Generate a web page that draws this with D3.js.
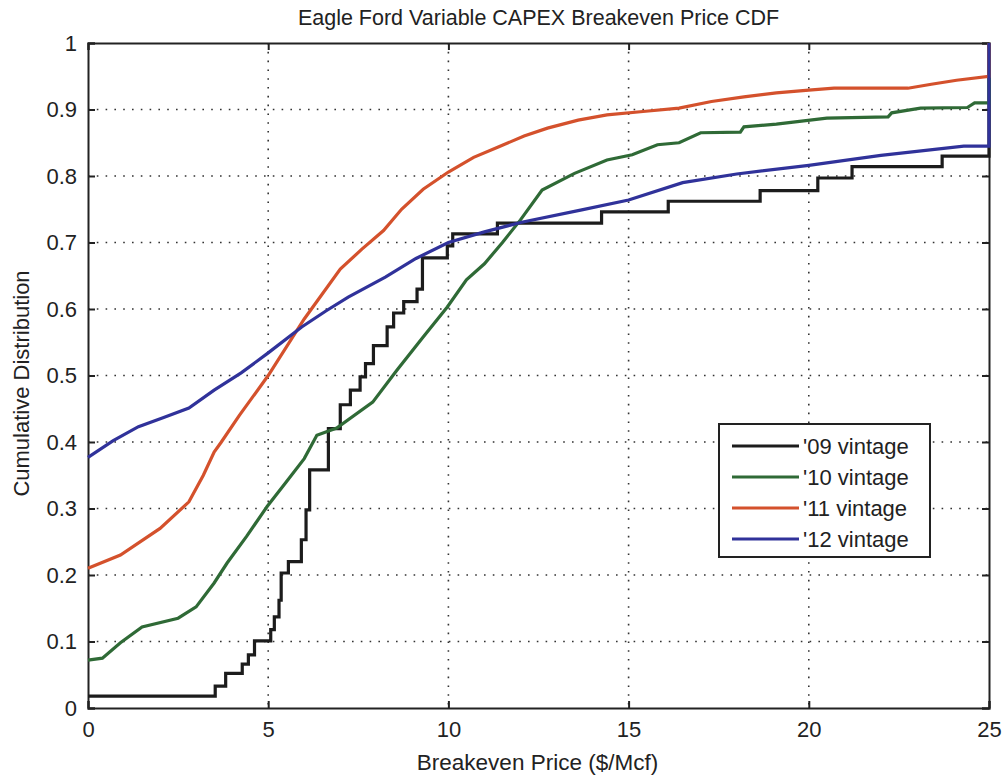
<!DOCTYPE html>
<html>
<head>
<meta charset="utf-8">
<script src="https://cdn.jsdelivr.net/npm/d3@7"></script>
<style>
  body { margin: 0; background: #fff; }
  text { font-family: "Liberation Sans", Arial, sans-serif; fill: #222; }
</style>
</head>
<body>
<svg></svg>
<script>
// dimensions
var svgWidth = 1005;
var svgHeight = 780;

var margin = { top: 43, right: 16, bottom: 72, left: 88 };
var chartWidth = svgWidth - margin.left - margin.right;
var chartHeight = svgHeight - margin.top - margin.bottom;

// data: [price, cumulative share]
var vintageNames = ["'09 vintage", "'10 vintage", "'11 vintage", "'12 vintage"];
var vintageColors = ["#1c1c1c", "#2f6a36", "#d4512c", "#30329a"];

var vintage09 = [[0,0.018],[3.53,0.033],[3.82,0.052],[4.28,0.066],[4.45,0.08],[4.62,0.101],
  [5.07,0.118],[5.17,0.137],[5.3,0.162],[5.36,0.203],[5.56,0.22],[5.92,0.253],[6.05,0.298],
  [6.15,0.358],[6.67,0.42],[7.0,0.456],[7.28,0.478],[7.55,0.498],[7.7,0.518],[7.92,0.545],
  [8.3,0.573],[8.48,0.594],[8.76,0.611],[9.13,0.63],[9.28,0.677],[9.97,0.695],[10.12,0.713],
  [11.36,0.729],[14.25,0.746],[16.1,0.762],[18.65,0.778],[20.25,0.797],[21.2,0.814],
  [23.7,0.83],[25,1]];

var vintage10 = [[0,0.072],[0.4,0.075],[0.9,0.098],[1.5,0.122],[2.5,0.135],[3.0,0.152],
  [3.5,0.188],[3.86,0.218],[4.4,0.258],[4.97,0.303],[5.5,0.34],[6.0,0.375],[6.35,0.41],
  [6.9,0.421],[7.9,0.46],[8.57,0.508],[9.3,0.558],[9.97,0.603],[10.5,0.644],[11.0,0.668],
  [11.5,0.7],[12.0,0.734],[12.6,0.779],[13.5,0.804],[14.4,0.824],[15.1,0.832],[15.8,0.847],
  [16.4,0.85],[17.0,0.865],[18.1,0.866],[18.2,0.874],[19.1,0.878],[20.5,0.887],[22.2,0.889],
  [22.3,0.895],[23.1,0.902],[24.4,0.903],[24.6,0.91],[25,0.91],[25,1]];

var vintage11 = [[0,0.21],[0.9,0.23],[2.0,0.27],[2.8,0.31],[3.2,0.35],[3.5,0.385],[3.7,0.40],
  [4.2,0.44],[5,0.50],[6,0.585],[7,0.66],[7.6,0.69],[8.2,0.718],[8.7,0.75],[9.3,0.78],
  [10,0.806],[10.7,0.828],[11.4,0.844],[12.1,0.86],[12.75,0.872],[13.6,0.884],[14.4,0.892],
  [15.4,0.897],[16.4,0.902],[17.3,0.912],[18.2,0.919],[19.1,0.925],[20,0.929],[20.7,0.932],
  [22.75,0.932],[23.4,0.938],[24.1,0.944],[25,0.95],[25,1]];

var vintage12 = [[0,0.377],[0.7,0.402],[1.4,0.423],[2.1,0.437],[2.8,0.451],[3.5,0.478],
  [4.25,0.504],[5,0.534],[5.93,0.573],[6.6,0.597],[7.22,0.618],[8.25,0.648],[9.1,0.676],
  [10,0.70],[11,0.716],[12,0.73],[13.7,0.749],[15,0.764],[16.5,0.79],[18,0.803],[20,0.816],
  [22,0.831],[24.3,0.845],[25,0.845],[25,1]];

var xTicks = [0, 5, 10, 15, 20, 25];
var yTicks = [0, 0.1, 0.2, 0.3, 0.4, 0.5, 0.6, 0.7, 0.8, 0.9, 1];

var svg = d3.select("svg")
  .attr("width", svgWidth)
  .attr("height", svgHeight);

var chartGroup = svg.append("g")
  .attr("transform", `translate(${margin.left}, ${margin.top})`);

var xScale = d3.scaleLinear().domain([0, 25]).range([0, chartWidth]);
var yScale = d3.scaleLinear().domain([0, 1]).range([chartHeight, 0]);

// dotted grid
chartGroup.append("g")
  .selectAll("line")
  .data(xTicks.slice(1, -1))
  .enter().append("line")
  .attr("x1", d => xScale(d)).attr("x2", d => xScale(d))
  .attr("y1", 0).attr("y2", chartHeight)
  .attr("stroke", "#333").attr("stroke-width", 1.6)
  .attr("stroke-dasharray", "1.6,7.2");

chartGroup.append("g")
  .selectAll("line")
  .data(yTicks.slice(1, -1))
  .enter().append("line")
  .attr("y1", d => yScale(d)).attr("y2", d => yScale(d))
  .attr("x1", 0).attr("x2", chartWidth)
  .attr("stroke", "#333").attr("stroke-width", 1.6)
  .attr("stroke-dasharray", "1.6,7.2");

// axes with inward ticks, MATLAB style
var bottomAxis = d3.axisBottom(xScale).tickValues(xTicks).tickSize(-7).tickPadding(13).tickFormat(d3.format("d"));
var topAxis = d3.axisTop(xScale).tickValues(xTicks).tickSize(-7).tickFormat("");
var leftAxis = d3.axisLeft(yScale).tickValues(yTicks).tickSize(-7).tickPadding(11).tickFormat(d => d === 0 || d === 1 ? d : d3.format(".1f")(d));
var rightAxis = d3.axisRight(yScale).tickValues(yTicks).tickSize(-7).tickFormat("");

function styleAxis(g) {
  g.select(".domain").attr("stroke", "#222").attr("stroke-width", 2);
  g.selectAll(".tick line").attr("stroke", "#222").attr("stroke-width", 2);
  g.selectAll(".tick text").attr("font-size", 22).attr("fill", "#222")
    .attr("font-family", "'Liberation Sans', Arial, sans-serif");
}

chartGroup.append("g").attr("transform", `translate(0,${chartHeight})`).call(bottomAxis).call(styleAxis);
chartGroup.append("g").call(topAxis).call(styleAxis);
chartGroup.append("g").call(leftAxis).call(styleAxis);
chartGroup.append("g").attr("transform", `translate(${chartWidth},0)`).call(rightAxis).call(styleAxis);

// curves
var series = [vintage09, vintage10, vintage11, vintage12];

var stepLine = d3.line()
  .x(d => xScale(d[0]))
  .y(d => yScale(d[1]))
  .curve(d3.curveStepAfter);

var plainLine = d3.line()
  .x(d => xScale(d[0]))
  .y(d => yScale(d[1]));

series.forEach(function(s, i) {
  chartGroup.append("path")
    .attr("d", i === 0 ? stepLine(s) : plainLine(s))
    .attr("fill", "none")
    .attr("stroke", vintageColors[i])
    .attr("stroke-width", 3.2)
    .attr("stroke-linejoin", "miter");
});

// title and axis labels
svg.append("text")
  .attr("x", margin.left + chartWidth / 2)
  .attr("y", 25)
  .attr("text-anchor", "middle")
  .attr("font-size", 21.5)
  .text("Eagle Ford Variable CAPEX Breakeven Price CDF");

svg.append("text")
  .attr("x", margin.left + chartWidth / 2 - 1)
  .attr("y", 770)
  .attr("text-anchor", "middle")
  .attr("font-size", 22.5)
  .text("Breakeven Price ($/Mcf)");

svg.append("text")
  .attr("transform", `translate(29, ${margin.top + chartHeight / 2 + 8}) rotate(-90)`)
  .attr("text-anchor", "middle")
  .attr("font-size", 22)
  .text("Cumulative Distribution");

// legend
var legend = svg.append("g").attr("transform", "translate(719, 424)");
legend.append("rect")
  .attr("width", 211).attr("height", 133)
  .attr("fill", "#fff").attr("stroke", "#222").attr("stroke-width", 2);

var legendItems = legend.selectAll(".item")
  .data(vintageNames)
  .enter().append("g")
  .attr("class", "item")
  .attr("transform", (d, i) => `translate(0, ${22 + i * 31})`);

legendItems.append("line")
  .attr("x1", 13).attr("x2", 80)
  .attr("stroke", (d, i) => vintageColors[i])
  .attr("stroke-width", 3);

legendItems.append("text")
  .attr("x", 84).attr("y", 8)
  .attr("font-size", 22)
  .text(d => d);
</script>
</body>
</html>
